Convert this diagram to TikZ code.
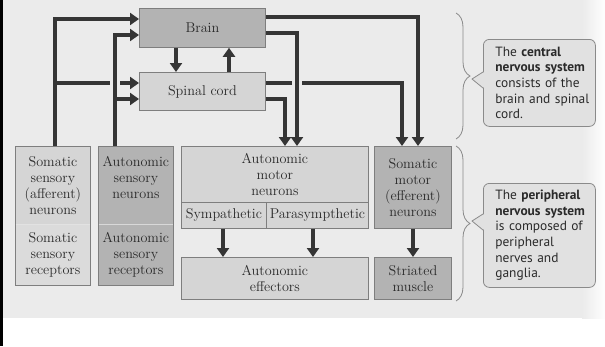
\documentclass[tikz,border=0pt]{standalone}
\usepackage{fontspec}
\newfontfamily\callfont{PT Sans}
\usetikzlibrary{arrows.meta,decorations.pathreplacing}
\definecolor{bg}{HTML}{EBEBEB}
\definecolor{boxlight}{HTML}{D5D5D5}
\definecolor{boxdark}{HTML}{B3B3B3}
\definecolor{edge}{HTML}{7E7E7E}
\definecolor{wirecol}{HTML}{353535}
\definecolor{callfill}{HTML}{E1E1E1}
\definecolor{calledge}{HTML}{8A8A8A}
\definecolor{divlight}{HTML}{E2E2E2}
\definecolor{txt}{HTML}{2A2A2A}
\begin{document}
\begin{tikzpicture}[x=1pt,y=-1pt,
  box/.style={draw=edge, line width=0.8pt, anchor=north west, inner sep=0pt,
    align=center, text=txt, font=\fontsize{14.2}{16}\selectfont},
  light/.style={fill=boxlight},
  dark/.style={fill=boxdark},
  wireline/.style={draw=wirecol, line width=4pt},
  wire/.style={wireline, -{Triangle[width=12pt,length=9pt]}},
  brc/.style={draw=calledge, line width=0.8pt, decorate,
    decoration={brace, amplitude=14pt}},
  callout/.style={draw=calledge, fill=callfill, line width=0.8pt,
    rounded corners=6pt, anchor=north west, inner xsep=12pt, inner ysep=0pt,
    text width=88pt, align=left, text=txt, font=\callfont\fontsize{13.4}{15.7}\selectfont}
]
\useasboundingbox (0,0) rectangle (605,346);
\fill[bg] (3,0) rectangle (605,318);
\shade[left color=bg, right color=white!96!bg] (582,0) rectangle (605,318);
\fill[black] (0,0) rectangle (3,346);

% central boxes
\node[box,dark,minimum width=126pt,minimum height=39pt] (brain) at (139,8) {Brain};
\node[box,light,minimum width=126pt,minimum height=38pt] (spinal) at (139,72) {Spinal cord};

% sensory columns
\node[box,light,minimum width=75pt,minimum height=78pt] (ssn) at (15,146)
  {Somatic\\sensory\\(afferent)\\neurons};
\node[box,light,fill=boxlight!85!white,minimum width=75pt,minimum height=61pt] (ssr) at (15,224)
  {Somatic\\sensory\\receptors};
\node[box,dark,minimum width=75pt,minimum height=78pt] (asn) at (98,146)
  {Autonomic\\sensory\\neurons\\\mbox{}};
\node[box,dark,minimum width=75pt,minimum height=61pt] (asr) at (98,224)
  {Autonomic\\sensory\\receptors};
\draw[divlight, line width=1.2pt] ([xshift=0.6pt]ssn.south west) -- ([xshift=-0.6pt]ssn.south east);
\draw[divlight!80!boxdark, line width=1.2pt] ([xshift=0.6pt]asn.south west) -- ([xshift=-0.6pt]asn.south east);

% motor side
\node[box,light,minimum width=187pt,minimum height=56pt] (amn) at (181,146)
  {Autonomic\\motor\\neurons};
\node[box,light,minimum width=85pt,minimum height=26pt] (symp) at (181,202) {Sympathetic};
\node[box,light,minimum width=102pt,minimum height=26pt] (para) at (266,202) {Parasympthetic};
\node[box,dark,minimum width=77pt,minimum height=82pt] (smn) at (374,146)
  {Somatic\\motor\\(efferent)\\neurons};
\node[box,light,minimum width=187pt,minimum height=42pt] (eff) at (181,257)
  {Autonomic\\effectors};
\node[box,dark,minimum width=77pt,minimum height=42pt] (musc) at (374,257)
  {Striated\\muscle};

% connectors that get crossed (drawn first)
\coordinate (j1) at (53,83);
\draw[wire] (j1) -- (spinal.west |- 0,83);
\draw[wire] (spinal.east |- 0,83) -| (402,0 |- smn.north);
% crossing gaps
\fill[bg] (110,79) rectangle (120,87);
\fill[bg] (292,79) rectangle (302,87);

% sensory inputs
\draw[wire] (55,0 |- ssn.north) |- (brain.west |- 0,19);
\draw[wire] (115,0 |- asn.north) |- (brain.west |- 0,35);
\coordinate (j2) at (113,99);
\draw[wire] (j2) -- (spinal.west |- 0,99);

% brain <-> spinal cord
\draw[wire] (176,0 |- brain.south) -- (176,0 |- spinal.north);
\draw[wire] (229,0 |- spinal.north) -- (229,0 |- brain.south);

% motor outputs
\draw[wire] (brain.east |- 0,17) -| (418,0 |- smn.north);
\draw[wire] (brain.east |- 0,33) -| (297,0 |- amn.north);
\draw[wire] (spinal.east |- 0,99) -| (285,0 |- amn.north);

% to effectors
\draw[wire] (223,0 |- symp.south) -- (223,0 |- eff.north);
\draw[wire] (313,0 |- para.south) -- (313,0 |- eff.north);
\draw[wire] (413,0 |- smn.south) -- (413,0 |- musc.north);

% braces
\draw[brc] (456,13) -- (456,139);
\draw[brc] (456,146) -- (456,301);

% callouts
\node[callout,minimum width=112pt,minimum height=87pt] (cns) at (483,39)
  {\mbox{The \textbf{central}}\\\mbox{\textbf{nervous system}}\\\mbox{consists of the}\\\mbox{brain and spinal}\\\mbox{cord.}};
\fill[callfill] (484.2,72) -- (472,79) -- (484.2,88) -- cycle;
\draw[calledge, line width=0.8pt, line join=round] (cns.west |- 0,72) -- (472,79) -- (cns.west |- 0,88);

\node[callout,minimum width=112pt,minimum height=104pt] (pns) at (483,183)
  {\mbox{The \textbf{peripheral}}\\\mbox{\textbf{nervous system}}\\\mbox{is composed of}\\\mbox{peripheral}\\\mbox{nerves and}\\\mbox{ganglia.}};
\fill[callfill] (484.2,214) -- (472,221) -- (484.2,230) -- cycle;
\draw[calledge, line width=0.8pt, line join=round] (pns.west |- 0,214) -- (472,221) -- (pns.west |- 0,230);
\end{tikzpicture}
\end{document}
